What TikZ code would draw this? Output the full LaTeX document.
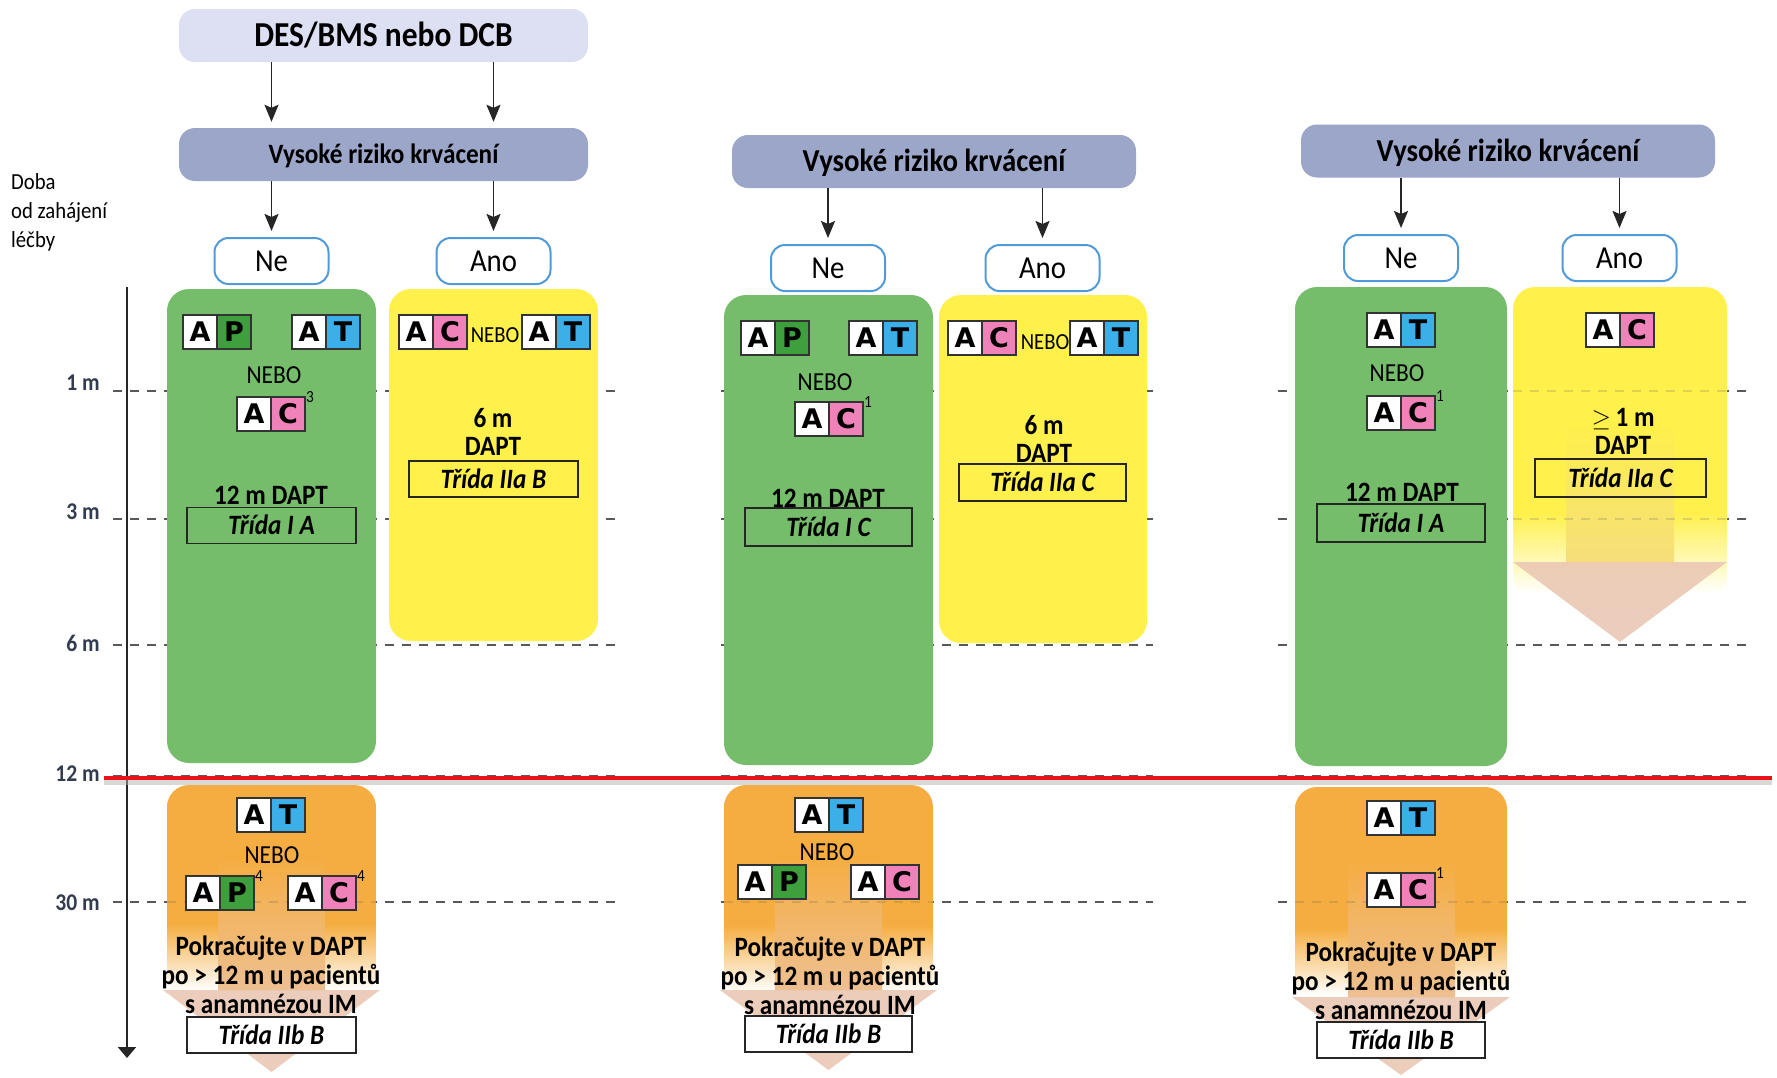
\documentclass[tikz,border=0pt]{standalone}
\usepackage{fontspec}
\setmainfont{Carlito}[FakeStretch=0.9]
\newfontfamily\cellfont{DejaVu Sans}
\usetikzlibrary{positioning,arrows.meta}

\definecolor{lavlight}{RGB}{221,223,242}
\definecolor{lavdark}{RGB}{156,166,201}
\definecolor{ynblue}{RGB}{80,155,215}
\definecolor{greenfill}{RGB}{118,189,107}
\definecolor{yellowfill}{RGB}{255,240,75}
\definecolor{orangefill}{RGB}{245,173,65}
\definecolor{peach}{RGB}{234,200,180}
\definecolor{pcell}{RGB}{62,160,60}
\definecolor{tcell}{RGB}{60,175,232}
\definecolor{ccell}{RGB}{238,130,185}
\definecolor{axisgrey}{RGB}{50,60,78}
\definecolor{redline}{RGB}{230,20,25}

\newcommand{\setfs}[1]{\fontsize{#1}{#1}\selectfont}

\pgfdeclareverticalshading{orangefade}{100bp}{color(0bp)=(white); color(26bp)=(white); color(42bp)=(orangefill); color(100bp)=(orangefill)}
\pgfdeclareverticalshading{yellowfade}{100bp}{color(0bp)=(white); color(26bp)=(white); color(39bp)=(yellowfill); color(100bp)=(yellowfill)}

\tikzstyle{topbox} = [rounded corners=16pt, fill=lavlight, minimum width=409pt, minimum height=53pt,
    text height=22pt, text depth=0pt, font=\setfs{35}\bfseries]
\tikzstyle{riskbox} = [rounded corners=16pt, fill=lavdark, minimum height=53pt,
    text height=20pt, text depth=0pt, font=\setfs{32}\bfseries]
\tikzstyle{ynbox} = [draw=ynblue, line width=2pt, rounded corners=14pt, fill=white, minimum width=114pt,
    minimum height=46pt, text height=20pt, text depth=0pt, font=\setfs{32}]
\tikzstyle{colbox} = [rounded corners=22pt, minimum width=209pt, inner sep=0pt]
\tikzstyle{nobox} = [colbox, fill=greenfill]
\tikzstyle{yesbox} = [colbox, fill=yellowfill]
\tikzstyle{afterbox} = [colbox, shading=orangefade]
\tikzstyle{drugcell} = [draw=black!80, line width=1.8pt, fill=white, minimum size=34pt, inner sep=0pt,
    outer sep=0pt, text height=19.5pt, text depth=0pt, font=\cellfont\bfseries\setfs{27}]
\tikzstyle{supnum} = [inner sep=0pt, anchor=north west, xshift=1pt, yshift=6pt, font=\setfs{17}]
\tikzstyle{nebo} = [inner sep=0pt, font=\setfs{26}]
\tikzstyle{nebosmall} = [inner sep=0pt, font=\setfs{23}]
\tikzstyle{dapt} = [inner sep=0pt, align=center, font=\fontsize{28}{28}\selectfont\bfseries]
\tikzstyle{pokr} = [inner sep=0pt, align=center, font=\fontsize{28}{29}\selectfont\bfseries]
\tikzstyle{classbox} = [draw=black!85, line width=1.8pt, minimum width=169pt, minimum height=36pt,
    text height=18pt, text depth=0pt, font=\setfs{28}\bfseries\itshape]
\tikzstyle{arr} = [-{Stealth[length=17pt,width=14pt,inset=3pt]}, line width=1.8pt, black!85, shorten >=6pt]
\tikzstyle{timeline} = [line width=2.2pt, black!65, dash pattern=on 9pt off 8pt]
\tikzstyle{axisline} = [-{Triangle[length=11pt,width=18pt]}, line width=2pt, black!85]
\tikzstyle{ticklbl} = [anchor=east, inner sep=0pt, text=axisgrey, font=\setfs{24}\bfseries]

\newcommand{\drugpair}[4]{%
  \node[drugcell, xshift=-17pt] (#1a) at (#2) {A};
  \node[drugcell, fill=#4, right=0pt of #1a] (#1b) {#3};}

\begin{document}
\begin{tikzpicture}[x=1pt,y=-1pt]
\useasboundingbox (0,0) rectangle (1777,1077);

% time lines
\foreach \yy in {391,519,645,776,902}{
  \draw[timeline] (113,\yy) -- (618,\yy);
  \draw[timeline] (721,\yy) -- (1153,\yy);
  \draw[timeline] (1278,\yy) -- (1751,\yy);
}
\coordinate (axtop) at (127,287);
\coordinate (axbot) at (127,1058);
\draw[axisline] (axtop) -- (axbot);
\foreach \yy/\lbl in {383/1 m,512/3 m,643/6 m,774/12 m,903/30 m}
  \node[ticklbl] (tick\yy) at (100,\yy) {\lbl};

\node[anchor=north west, inner sep=0pt, align=left, font=\fontsize{23}{29}\selectfont] (doba) at (11,173)
  {Doba\\od zahájení\\léčby};

% column boxes
\node[nobox, minimum height=474pt] (g1) at (271.5,526) {};
\node[yesbox, minimum height=352pt] (y1) at (493.5,465) {};
\node[afterbox, minimum height=210pt] (o1) at (271.5,890) {};
\node[nobox, minimum height=470pt] (g2) at (828.5,530) {};
\node[yesbox, minimum width=208pt, minimum height=348pt] (y2) at (1043,469) {};
\node[afterbox, minimum height=212pt] (o2) at (828.5,891) {};
\node[nobox, minimum width=212pt, minimum height=479pt] (g3) at (1401,526.5) {};
\node[colbox, shading=yellowfade, minimum width=214pt, minimum height=313pt] (y3) at (1620,443.5) {};
\node[afterbox, minimum width=212pt, minimum height=213pt] (o3) at (1401,893.5) {};

% down arrows in the faded boxes
\shade[top color=orangefill, bottom color=peach!70!orangefill] (218,857) rectangle (325,990);
\fill[peach, fill opacity=0.9] (163,990) -- (380,990) -- (271.5,1072) -- cycle;
\shade[top color=orangefill, bottom color=peach!70!orangefill] (775,857) rectangle (882,990);
\fill[peach, fill opacity=0.9] (720,990) -- (937,990) -- (828.5,1070) -- cycle;
\shade[top color=orangefill, bottom color=peach!70!orangefill] (1348,860) rectangle (1455,997);
\fill[peach, fill opacity=0.9] (1292,997) -- (1510,997) -- (1401,1075) -- cycle;
\shade[top color=yellowfill, bottom color=yellowfill!55!peach] (1566,423) rectangle (1674,562);
\fill[peach, fill opacity=0.9] (1513,562) -- (1727,562) -- (1620,642) -- cycle;

% lines seen through the faded boxes
\draw[timeline, opacity=0.2] (167,902) -- (376,902) (724,902) -- (933,902) (1295,902) -- (1507,902);
\draw[timeline, opacity=0.2] (1513,391) -- (1727,391) (1513,519) -- (1727,519);

% header
\node[topbox] (des) at (383.5,35.5) {DES/BMS nebo DCB};
\node[riskbox, minimum width=409pt, text height=18pt, font=\setfs{28}\bfseries] (vr1) at (383.5,154.5) {Vysoké riziko krvácení};
\node[riskbox, minimum width=404pt] (vr2) at (934,161.5) {Vysoké riziko krvácení};
\node[riskbox, minimum width=414pt] (vr3) at (1508,151) {Vysoké riziko krvácení};
\node[ynbox] (ne1) at (271.5,261) {Ne};
\node[ynbox] (ano1) at (493.5,261) {Ano};
\node[ynbox] (ne2) at (828,268) {Ne};
\node[ynbox] (ano2) at (1042.5,268) {Ano};
\node[ynbox] (ne3) at (1401,258) {Ne};
\node[ynbox] (ano3) at (1619.5,258) {Ano};

\draw[arr] (des.south -| ne1) -- (vr1.north -| ne1);
\draw[arr] (des.south -| ano1) -- (vr1.north -| ano1);
\foreach \c in {1,2,3}{
  \draw[arr] (vr\c.south -| ne\c) -- (ne\c.north);
  \draw[arr] (vr\c.south -| ano\c) -- (ano\c.north);
}

% column 1
\drugpair{ap1}{217,332}{P}{pcell}
\drugpair{at1}{326,332}{T}{tcell}
\node[nebo] (nb1) at (274,375) {NEBO};
\drugpair{ac1}{271,414}{C}{ccell}
\node[supnum] (ac1s) at (ac1b.north east) {3};
\node[dapt] (d1) at (271,495) {12 m DAPT};
\node[classbox] (k1) at (271.5,525.5) {Třída I A};

\drugpair{acy1}{433,332}{C}{ccell}
\node[nebosmall] (nby1) at (495,335) {NEBO};
\drugpair{aty1}{556,332}{T}{tcell}
\node[dapt] (dy1) at (493,432) {6 m\\DAPT};
\node[classbox] (ky1) at (493.5,479) {Třída IIa B};

\drugpair{atb1}{271,815}{T}{tcell}
\node[nebo] (nbb1) at (272,855) {NEBO};
\drugpair{apb1}{220,893}{P}{pcell}
\node[supnum] (apb1s) at (apb1b.north east) {4};
\drugpair{acb1}{322,893}{C}{ccell}
\node[supnum] (acb1s) at (acb1b.north east) {4};
\node[pokr] (pk1) at (271,975) {Pokračujte v DAPT\\po > 12 m u pacientů\\s anamnézou IM};
\node[classbox, fill=white] (kb1) at (271.5,1035) {Třída IIb B};

% column 2
\drugpair{ap2}{775,338}{P}{pcell}
\drugpair{at2}{883,338}{T}{tcell}
\node[nebo] (nb2) at (825,382) {NEBO};
\drugpair{ac2}{829,419}{C}{ccell}
\node[supnum] (ac2s) at (ac2b.north east) {1};
\node[dapt] (d2) at (828,498) {12 m DAPT};
\node[classbox, minimum width=167pt, minimum height=38pt] (k2) at (828.5,527) {Třída I C};

\drugpair{acy2}{982,338}{C}{ccell}
\node[nebosmall] (nby2) at (1045,342) {NEBO};
\drugpair{aty2}{1104,338}{T}{tcell}
\node[dapt] (dy2) at (1044,439) {6 m\\DAPT};
\node[classbox, minimum width=167pt, minimum height=37pt] (ky2) at (1042.5,482.5) {Třída IIa C};

\drugpair{atb2}{829,815}{T}{tcell}
\node[nebo] (nbb2) at (827,852) {NEBO};
\drugpair{apb2}{772,882}{P}{pcell}
\drugpair{acb2}{885,882}{C}{ccell}
\node[pokr] (pk2) at (830,976) {Pokračujte v DAPT\\po > 12 m u pacientů\\s anamnézou IM};
\node[classbox, fill=white, minimum width=167pt] (kb2) at (828.5,1034) {Třída IIb B};

% column 3
\drugpair{at3}{1401,330}{T}{tcell}
\node[nebo] (nb3) at (1397,373) {NEBO};
\drugpair{ac3}{1401,413}{C}{ccell}
\node[supnum] (ac3s) at (ac3b.north east) {1};
\node[dapt] (d3) at (1402,492) {12 m DAPT};
\node[classbox, minimum width=168pt, minimum height=38pt] (k3) at (1401,523) {Třída I A};

\drugpair{acy3}{1620,330}{C}{ccell}
\node[dapt] (dy3) at (1623,431) {{\normalfont$\geq$}\,1 m\\DAPT};
\node[classbox, minimum width=171pt, minimum height=38pt] (ky3) at (1620.5,478) {Třída IIa C};

\drugpair{atb3}{1401,818}{T}{tcell}
\drugpair{acb3}{1401,890}{C}{ccell}
\node[supnum] (acb3s) at (acb3b.north east) {1};
\node[pokr] (pk3) at (1401,981) {Pokračujte v DAPT\\po > 12 m u pacientů\\s anamnézou IM};
\node[classbox, fill=white, minimum width=168pt] (kb3) at (1401,1040) {Třída IIb B};

% 12 m limit
\coordinate (redL) at (104,778);
\coordinate (redR) at (1772,778);
\draw[line width=5pt, black!30, opacity=0.5] ([yshift=-4pt]redL) -- ([yshift=-4pt]redR);
\draw[line width=4pt, redline] (redL) -- (redR);
\end{tikzpicture}
\end{document}
